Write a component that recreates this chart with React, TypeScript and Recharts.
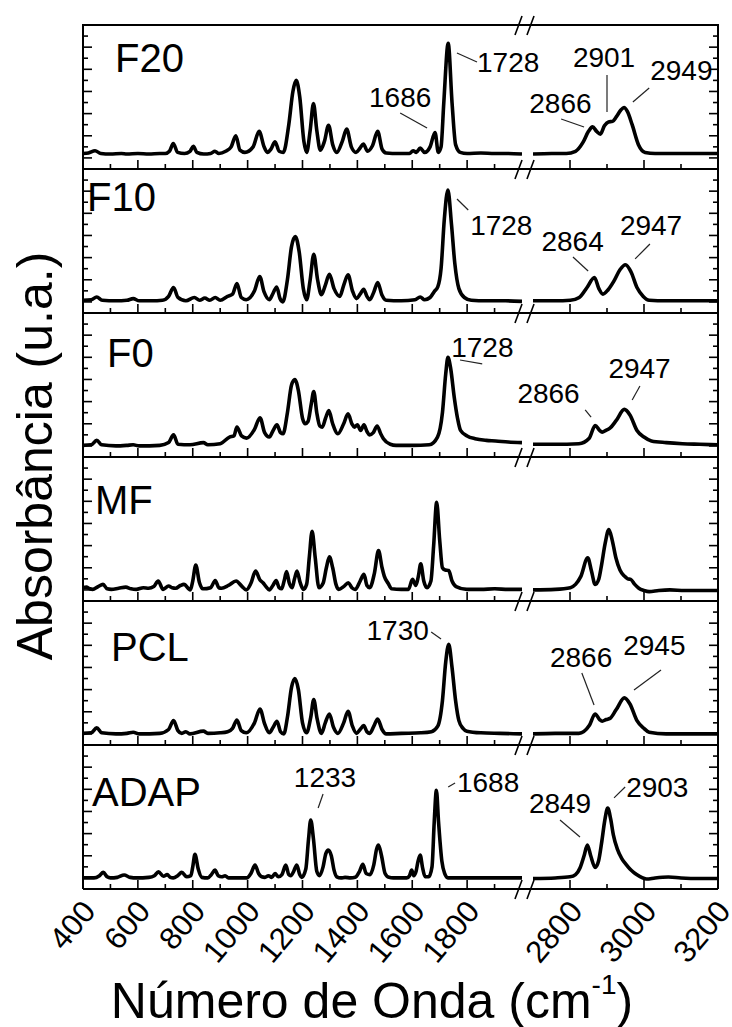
import React from "react";
import { LineChart, Line, XAxis, YAxis, ReferenceLine, ReferenceDot } from "recharts";

type Pt = [number, number];
type Note = { text: string; at: Pt; anchor: "start" | "middle" | "end"; line: [Pt, Pt] };

// absorbance, low-wavenumber segment (400-2000) and C-H segment (2700-3200)
const F20_LOW: Pt[] = [
  [400, 0.04], [420, 0.045], [444, 0.065], [465, 0.04], [500, 0.035], [540, 0.04], [560, 0.035], [600, 0.04],
  [640, 0.035], [680, 0.04], [700, 0.04], [715, 0.06], [729, 0.13], [745, 0.05], [770, 0.04], [790, 0.06],
  [802, 0.105], [815, 0.05], [840, 0.035], [865, 0.04], [881, 0.06], [895, 0.04], [920, 0.06], [940, 0.1],
  [957, 0.2], [972, 0.07], [990, 0.05], [1020, 0.1], [1042, 0.24], [1060, 0.1], [1072, 0.05], [1085, 0.08],
  [1100, 0.145], [1115, 0.06], [1130, 0.05], [1150, 0.3], [1165, 0.6], [1177, 0.7], [1190, 0.55], [1205, 0.15],
  [1215, 0.05], [1228, 0.25], [1240, 0.49], [1252, 0.25], [1265, 0.07], [1280, 0.15], [1295, 0.295], [1310, 0.12],
  [1325, 0.05], [1345, 0.15], [1361, 0.26], [1378, 0.1], [1395, 0.05], [1410, 0.09], [1422, 0.125], [1437, 0.06],
  [1455, 0.11], [1474, 0.24], [1490, 0.08], [1505, 0.045], [1550, 0.04], [1590, 0.04], [1603, 0.065], [1615, 0.05],
  [1629, 0.09], [1645, 0.05], [1665, 0.1], [1683, 0.23], [1695, 0.05], [1705, 0.1], [1715, 0.5], [1731, 1.035],
  [1745, 0.5], [1758, 0.12], [1775, 0.05], [1800, 0.04], [1850, 0.045], [1900, 0.04], [1950, 0.04], [2000, 0.035],
];
const F20_HIGH: Pt[] = [
  [2700, 0.035], [2750, 0.04], [2790, 0.04], [2815, 0.06], [2835, 0.14], [2850, 0.24], [2861, 0.28], [2872, 0.24],
  [2882, 0.215], [2893, 0.29], [2904, 0.325], [2915, 0.33], [2925, 0.37], [2937, 0.43], [2946, 0.455], [2955, 0.42],
  [2968, 0.3], [2985, 0.12], [3003, 0.05], [3030, 0.04], [3080, 0.04], [3130, 0.04], [3200, 0.04],
];

const F10_LOW: Pt[] = [
  [400, 0.015], [430, 0.02], [450, 0.045], [470, 0.015], [520, 0.01], [560, 0.015], [583, 0.03], [605, 0.01],
  [650, 0.01], [690, 0.015], [712, 0.05], [730, 0.13], [746, 0.04], [775, 0.01], [806, 0.04], [825, 0.015],
  [844, 0.035], [862, 0.015], [882, 0.04], [900, 0.015], [927, 0.05], [945, 0.07], [961, 0.165], [977, 0.04],
  [995, 0.02], [1025, 0.1], [1044, 0.23], [1060, 0.09], [1079, 0.02], [1093, 0.08], [1106, 0.135], [1118, 0.03],
  [1128, 0.0], [1145, 0.2], [1160, 0.5], [1174, 0.59], [1188, 0.45], [1203, 0.12], [1215, 0.02], [1228, 0.2],
  [1241, 0.43], [1255, 0.2], [1269, 0.065], [1283, 0.15], [1298, 0.25], [1315, 0.12], [1336, 0.05], [1350, 0.15],
  [1366, 0.245], [1382, 0.1], [1397, 0.03], [1410, 0.07], [1423, 0.115], [1435, 0.05], [1445, 0.02], [1460, 0.09],
  [1474, 0.175], [1490, 0.06], [1505, 0.015], [1560, 0.01], [1610, 0.02], [1629, 0.045], [1645, 0.02], [1665, 0.04],
  [1682, 0.1], [1693, 0.135], [1705, 0.3], [1717, 0.75], [1730, 1.01], [1743, 0.7], [1755, 0.35], [1770, 0.12],
  [1790, 0.04], [1815, 0.015], [1870, 0.01], [1940, 0.01], [2000, 0.005],
];
const F10_HIGH: Pt[] = [
  [2700, 0.01], [2760, 0.01], [2801, 0.015], [2825, 0.04], [2846, 0.13], [2866, 0.22], [2878, 0.12], [2889, 0.07],
  [2903, 0.11], [2919, 0.19], [2935, 0.29], [2950, 0.335], [2965, 0.27], [2981, 0.13], [2998, 0.05], [3014, 0.015],
  [3060, 0.01], [3120, 0.01], [3200, 0.01],
];

const F0_LOW: Pt[] = [
  [400, 0.005], [430, 0.01], [450, 0.05], [468, 0.01], [520, 0.0], [560, 0.005], [583, 0.01], [605, 0.0],
  [680, 0.005], [712, 0.03], [730, 0.1], [746, 0.015], [790, 0.01], [839, 0.03], [855, 0.01], [900, 0.02],
  [934, 0.08], [950, 0.09], [961, 0.17], [978, 0.09], [996, 0.07], [1025, 0.15], [1045, 0.255], [1062, 0.12],
  [1079, 0.08], [1093, 0.14], [1107, 0.19], [1120, 0.12], [1129, 0.11], [1145, 0.3], [1160, 0.55], [1172, 0.6],
  [1185, 0.5], [1200, 0.25], [1210, 0.2], [1220, 0.22], [1232, 0.38], [1241, 0.49], [1252, 0.3], [1263, 0.18],
  [1272, 0.17], [1284, 0.25], [1296, 0.32], [1310, 0.2], [1329, 0.11], [1350, 0.2], [1366, 0.29], [1380, 0.2],
  [1389, 0.17], [1400, 0.19], [1412, 0.14], [1424, 0.19], [1435, 0.13], [1444, 0.1], [1458, 0.12], [1472, 0.18],
  [1485, 0.11], [1495, 0.065], [1520, 0.015], [1541, 0.005], [1600, 0.005], [1662, 0.01], [1692, 0.08], [1710, 0.3],
  [1722, 0.65], [1730, 0.8], [1740, 0.7], [1753, 0.44], [1765, 0.25], [1776, 0.14], [1800, 0.09], [1829, 0.065],
  [1870, 0.05], [1904, 0.045], [1950, 0.035], [2000, 0.03],
];
const F0_HIGH: Pt[] = [
  [2700, 0.015], [2760, 0.015], [2824, 0.02], [2852, 0.07], [2868, 0.185], [2880, 0.14], [2887, 0.125], [2897, 0.14],
  [2908, 0.16], [2925, 0.23], [2947, 0.33], [2962, 0.28], [2981, 0.14], [3000, 0.08], [3020, 0.045], [3060, 0.03],
  [3104, 0.02], [3150, 0.015], [3200, 0.01],
];

const MF_LOW: Pt[] = [
  [400, 0.02], [412, 0.025], [425, 0.01], [435, 0.005], [455, 0.03], [473, 0.05], [488, 0.01], [503, 0.005],
  [530, 0.015], [556, 0.025], [575, 0.01], [594, 0.005], [620, 0.02], [639, 0.015], [658, 0.03], [674, 0.08],
  [692, 0.005], [712, 0.035], [725, 0.02], [738, 0.015], [755, 0.04], [768, 0.05], [791, 0.0], [800, 0.08],
  [811, 0.225], [824, 0.07], [837, 0.01], [865, 0.02], [882, 0.085], [895, 0.02], [905, 0.015], [930, 0.04],
  [958, 0.08], [980, 0.03], [995, 0.0], [1012, 0.06], [1029, 0.17], [1045, 0.09], [1056, 0.065], [1067, 0.03],
  [1079, 0.0], [1092, 0.04], [1104, 0.085], [1115, 0.02], [1124, 0.01], [1133, 0.08], [1142, 0.165], [1152, 0.06],
  [1162, 0.02], [1171, 0.1], [1180, 0.17], [1191, 0.07], [1203, 0.005], [1215, 0.05], [1225, 0.3], [1235, 0.53],
  [1246, 0.3], [1260, 0.02], [1275, 0.06], [1287, 0.2], [1298, 0.3], [1310, 0.2], [1322, 0.05], [1332, 0.005],
  [1350, 0.03], [1367, 0.065], [1380, 0.02], [1392, 0.005], [1410, 0.08], [1424, 0.14], [1435, 0.04], [1445, 0.02],
  [1462, 0.15], [1477, 0.355], [1490, 0.2], [1498, 0.125], [1512, 0.06], [1525, 0.01], [1560, 0.005], [1586, 0.005],
  [1601, 0.095], [1613, 0.04], [1622, 0.12], [1631, 0.235], [1642, 0.08], [1654, 0.02], [1668, 0.08], [1678, 0.4],
  [1689, 0.79], [1700, 0.45], [1710, 0.2], [1720, 0.18], [1733, 0.175], [1745, 0.08], [1760, 0.03], [1799, 0.005],
  [1850, 0.005], [1900, 0.01], [1950, 0.005], [2000, 0.005],
];
const MF_HIGH: Pt[] = [
  [2700, 0.0], [2760, 0.005], [2801, 0.02], [2815, 0.05], [2829, 0.12], [2848, 0.29], [2858, 0.17], [2868, 0.05],
  [2878, 0.1], [2885, 0.22], [2895, 0.42], [2905, 0.545], [2914, 0.45], [2924, 0.29], [2935, 0.18], [2947, 0.125],
  [2956, 0.1], [2964, 0.095], [2975, 0.05], [2986, 0.015], [3000, -0.005], [3014, -0.015], [3040, -0.005],
  [3070, 0.0], [3110, -0.005], [3150, -0.005], [3200, -0.005],
];

const PCL_LOW: Pt[] = [
  [400, 0.005], [430, 0.01], [450, 0.055], [468, 0.01], [520, 0.0], [560, 0.005], [583, 0.015], [605, 0.0],
  [680, 0.005], [712, 0.04], [730, 0.12], [746, 0.03], [760, 0.005], [775, 0.02], [790, 0.0], [839, 0.025],
  [855, 0.005], [900, 0.01], [927, 0.02], [945, 0.05], [961, 0.125], [977, 0.03], [995, 0.01], [1025, 0.1],
  [1045, 0.225], [1062, 0.09], [1079, 0.01], [1093, 0.06], [1107, 0.115], [1120, 0.02], [1132, 0.0], [1145, 0.15],
  [1160, 0.42], [1172, 0.5], [1185, 0.4], [1200, 0.1], [1215, 0.01], [1230, 0.15], [1241, 0.31], [1253, 0.14],
  [1269, 0.005], [1283, 0.1], [1298, 0.18], [1313, 0.06], [1329, 0.005], [1350, 0.1], [1366, 0.205], [1382, 0.07],
  [1397, 0.005], [1410, 0.04], [1423, 0.075], [1435, 0.02], [1445, 0.005], [1460, 0.07], [1474, 0.135], [1490, 0.04],
  [1505, 0.0], [1560, 0.005], [1631, 0.01], [1670, 0.02], [1693, 0.07], [1710, 0.3], [1722, 0.65], [1733, 0.81],
  [1745, 0.6], [1758, 0.3], [1770, 0.12], [1785, 0.05], [1799, 0.025], [1850, 0.01], [1920, 0.005], [2000, 0.0],
];
const PCL_HIGH: Pt[] = [
  [2700, 0.0], [2760, 0.005], [2824, 0.005], [2852, 0.075], [2868, 0.18], [2880, 0.13], [2887, 0.115], [2898, 0.13],
  [2908, 0.14], [2925, 0.22], [2947, 0.325], [2962, 0.27], [2981, 0.12], [3000, 0.05], [3014, 0.015], [3060, 0.0],
  [3120, 0.0], [3200, 0.0],
];

const ADAP_LOW: Pt[] = [
  [400, 0.0], [440, 0.0], [460, 0.02], [474, 0.05], [488, 0.01], [500, 0.0], [525, 0.005], [550, 0.026],
  [572, 0.005], [596, 0.0], [640, 0.005], [660, 0.02], [675, 0.056], [693, 0.015], [707, 0.03], [718, 0.005],
  [729, 0.0], [745, 0.02], [760, 0.05], [778, 0.01], [793, 0.02], [800, 0.1], [808, 0.213], [820, 0.08],
  [833, 0.005], [855, 0.0], [868, 0.03], [881, 0.07], [893, 0.02], [905, 0.01], [918, 0.02], [930, 0.0],
  [948, 0.0], [997, 0.0], [1012, 0.04], [1027, 0.117], [1040, 0.04], [1051, 0.01], [1063, 0.005], [1076, 0.02],
  [1088, 0.005], [1100, 0.04], [1112, 0.01], [1125, 0.03], [1139, 0.117], [1150, 0.03], [1157, 0.02], [1168, 0.06],
  [1179, 0.117], [1190, 0.03], [1197, 0.005], [1212, 0.08], [1222, 0.35], [1230, 0.523], [1240, 0.35], [1252, 0.06],
  [1262, 0.02], [1275, 0.1], [1285, 0.22], [1294, 0.252], [1305, 0.2], [1315, 0.07], [1325, 0.01], [1340, 0.0],
  [1355, 0.005], [1375, 0.0], [1392, 0.005], [1408, 0.06], [1420, 0.123], [1432, 0.04], [1446, 0.03], [1460, 0.12],
  [1470, 0.26], [1477, 0.297], [1488, 0.2], [1501, 0.04], [1515, 0.005], [1531, 0.0], [1580, 0.0], [1590, 0.02],
  [1598, 0.07], [1605, 0.02], [1614, 0.06], [1621, 0.15], [1629, 0.207], [1637, 0.1], [1647, 0.01], [1660, 0.01],
  [1672, 0.1], [1680, 0.5], [1688, 0.79], [1696, 0.5], [1708, 0.15], [1718, 0.04], [1730, 0.0], [1762, 0.0],
  [1800, 0.0], [1900, 0.0], [2000, 0.0],
];
const ADAP_HIGH: Pt[] = [
  [2700, -0.005], [2760, 0.0], [2800, 0.01], [2815, 0.03], [2827, 0.09], [2838, 0.2], [2847, 0.297], [2856, 0.2],
  [2868, 0.095], [2877, 0.15], [2886, 0.33], [2894, 0.52], [2902, 0.63], [2910, 0.53], [2917, 0.39], [2928, 0.26],
  [2940, 0.175], [2952, 0.12], [2962, 0.08], [2972, 0.05], [2980, 0.03], [3007, -0.01], [3030, 0.0], [3066, 0.008],
  [3100, 0.0], [3150, -0.005], [3200, -0.005],
];

// peak labels: text anchor point and leader line, in (wavenumber, absorbance)
const F20_NOTES: Note[] = [
  { text: "1686", at: [1556, 0.46], anchor: "middle", line: [[1556, 0.406], [1654, 0.27]] },
  { text: "1728", at: [1836, 0.776], anchor: "start", line: [[1763, 0.947], [1836, 0.866]] },
  { text: "2866", at: [2774, 0.406], anchor: "middle", line: [[2776, 0.351], [2838, 0.279]] },
  { text: "2901", at: [2892, 0.821], anchor: "middle", line: [[2900, 0.749], [2900, 0.415]] },
  { text: "2949", at: [3101, 0.703], anchor: "middle", line: [[3014, 0.631], [2970, 0.505]] },
];
const F10_NOTES: Note[] = [
  { text: "1728", at: [1811, 0.604], anchor: "start", line: [[1763, 0.929], [1804, 0.83]] },
  { text: "2864", at: [2807, 0.46], anchor: "middle", line: [[2808, 0.406], [2849, 0.279]] },
  { text: "2947", at: [3019, 0.604], anchor: "middle", line: [[3016, 0.523], [2976, 0.388]] },
];
const F0_NOTES: Note[] = [
  { text: "1728", at: [1742, 0.803], anchor: "start", line: [[1774, 0.776], [1855, 0.74]] },
  { text: "2866", at: [2742, 0.388], anchor: "middle", line: [[2841, 0.325], [2857, 0.261]] },
  { text: "2947", at: [2988, 0.613], anchor: "middle", line: [[2989, 0.541], [2968, 0.415]] },
];
const PCL_NOTES: Note[] = [
  { text: "1730", at: [1547, 0.848], anchor: "middle", line: [[1669, 0.92], [1705, 0.857]] },
  { text: "2866", at: [2830, 0.604], anchor: "middle", line: [[2832, 0.55], [2865, 0.261]] },
  { text: "2945", at: [3028, 0.713], anchor: "middle", line: [[3046, 0.577], [2973, 0.397]] },
];
const ADAP_NOTES: Note[] = [
  { text: "1233", at: [1282, 0.821], anchor: "middle", line: [[1275, 0.758], [1257, 0.631]] },
  { text: "1688", at: [1763, 0.776], anchor: "start", line: [[1756, 0.857], [1731, 0.821]] },
  { text: "2849", at: [2773, 0.586], anchor: "middle", line: [[2773, 0.523], [2827, 0.37]] },
  { text: "2903", at: [3036, 0.731], anchor: "middle", line: [[2949, 0.821], [2919, 0.722]] },
];

const LOW_MAJOR = [400, 600, 800, 1000, 1200, 1400, 1600, 1800];
const LOW_MINOR = [500, 700, 900, 1100, 1300, 1500, 1700, 1900];
const HIGH_MAJOR = [2800, 3000, 3200];
const HIGH_MINOR = [2900, 3100];
const Y_MAJOR = [0, 0.2, 0.4, 0.6, 0.8, 1.0];
const Y_MINOR = [0.1, 0.3, 0.5, 0.7, 0.9, 1.1];

const PANELS = [
  { name: "F20", low: F20_LOW, high: F20_HIGH, notes: F20_NOTES, lx: 115, ly: 72 },
  { name: "F10", low: F10_LOW, high: F10_HIGH, notes: F10_NOTES, lx: 87, ly: 211 },
  { name: "F0", low: F0_LOW, high: F0_HIGH, notes: F0_NOTES, lx: 107, ly: 367 },
  { name: "MF", low: MF_LOW, high: MF_HIGH, notes: [] as Note[], lx: 95, ly: 514 },
  { name: "PCL", low: PCL_LOW, high: PCL_HIGH, notes: PCL_NOTES, lx: 111, ly: 661 },
  { name: "ADAP", low: ADAP_LOW, high: ADAP_HIGH, notes: ADAP_NOTES, lx: 92, ly: 806 },
];

const FONT = "'Liberation Sans', Arial, sans-serif";
const LEFT = 83;
const BREAK_L = 522;
const BREAK_R = 533;
const RIGHT = 718;
const TOP = 25;
const PANEL_H = 144;
const Y_DOMAIN = [-0.1, 1.2];

function XTick(props: any) {
  const { x, y, payload, majors, bottom } = props;
  const major = majors.includes(payload.value);
  const tx = x + 14;
  const ty = y + 23;
  return (
    <g>
      <line x1={x} y1={y} x2={x} y2={y - (major ? 9 : 5)} stroke="#000" strokeWidth={1.6} />
      {bottom && major && (
        <text x={tx} y={ty} transform={`rotate(-50 ${tx} ${ty})`} textAnchor="end" fontSize={31} fontFamily={FONT} fill="#000">
          {payload.value}
        </text>
      )}
    </g>
  );
}

function YTick(props: any) {
  const { x, y, payload, dir } = props;
  const major = Y_MAJOR.includes(payload.value);
  return <line x1={x} y1={y} x2={x + dir * (major ? 9 : 5)} y2={y} stroke="#000" strokeWidth={1.6} />;
}

function NoteText({ cx, cy, text, anchor }: any) {
  return (
    <text x={cx} y={cy} textAnchor={anchor} fontSize={28} fontFamily={FONT} fill="#000">
      {text}
    </text>
  );
}

function Segment({ pts, notes, side, bottom }: { pts: Pt[]; notes: Note[]; side: "low" | "high"; bottom: boolean }) {
  const low = side === "low";
  const data = pts.map(([wn, a]) => ({ wn, a }));
  const domain = low ? [400, 2000] : [2700, 3200];
  const majors = low ? LOW_MAJOR : HIGH_MAJOR;
  const xticks = [...majors, ...(low ? LOW_MINOR : HIGH_MINOR)].sort((a, b) => a - b);
  const yticks = [...Y_MAJOR, ...Y_MINOR].sort((a, b) => a - b);
  const width = (low ? BREAK_L - LEFT : RIGHT - BREAK_R) + 1;
  const mine = notes.filter((n) => (n.at[0] < 2300) === low);
  return (
    <LineChart width={width} height={PANEL_H + 1} data={data} margin={{ top: 0, right: 0, bottom: 0, left: 0 }}>
      <XAxis
        dataKey="wn"
        type="number"
        domain={domain}
        allowDataOverflow
        ticks={xticks}
        interval={0}
        height={1}
        tickSize={0}
        tickMargin={0}
        tickLine={false}
        tick={<XTick majors={majors} bottom={bottom} />}
        axisLine={{ stroke: "#000", strokeWidth: 2 }}
      />
      <YAxis
        type="number"
        domain={Y_DOMAIN}
        allowDataOverflow
        orientation={low ? "left" : "right"}
        ticks={yticks}
        interval={0}
        width={1}
        tickSize={0}
        tickMargin={0}
        tickLine={false}
        tick={<YTick dir={low ? 1 : -1} />}
        axisLine={{ stroke: "#000", strokeWidth: 2 }}
      />
      <Line type="monotone" dataKey="a" stroke="#000" strokeWidth={3.6} dot={false} isAnimationActive={false} />
      {mine.map((n) => (
        <ReferenceLine
          key={n.text + "l"}
          segment={[{ x: n.line[0][0], y: n.line[0][1] }, { x: n.line[1][0], y: n.line[1][1] }]}
          stroke="#222"
          strokeWidth={1.2}
          ifOverflow="visible"
        />
      ))}
      {mine.map((n) => (
        <ReferenceDot
          key={n.text + "t"}
          x={n.at[0]}
          y={n.at[1]}
          r={0}
          ifOverflow="visible"
          shape={(p: any) => <NoteText cx={p.cx} cy={p.cy} text={n.text} anchor={n.anchor} />}
        />
      ))}
    </LineChart>
  );
}

export default function App() {
  const borders = PANELS.map((_, i) => TOP + i * PANEL_H).concat([TOP + PANELS.length * PANEL_H]);
  return (
    <div style={{ position: "relative", width: 732, height: 1027, background: "#fff", fontFamily: FONT }}>
      <style>{`body{margin:0} .recharts-surface{overflow:visible}`}</style>
      {PANELS.map((p, i) => (
        <React.Fragment key={p.name}>
          <div style={{ position: "absolute", left: LEFT - 1, top: TOP + i * PANEL_H }}>
            <Segment pts={p.low} notes={p.notes} side="low" bottom={i === PANELS.length - 1} />
          </div>
          <div style={{ position: "absolute", left: BREAK_R, top: TOP + i * PANEL_H }}>
            <Segment pts={p.high} notes={p.notes} side="high" bottom={i === PANELS.length - 1} />
          </div>
        </React.Fragment>
      ))}
      <svg width={732} height={1027} style={{ position: "absolute", left: 0, top: 0, pointerEvents: "none", overflow: "visible" }}>
        <line x1={LEFT - 1} y1={TOP} x2={RIGHT + 1} y2={TOP} stroke="#000" strokeWidth={2} />
        {borders.map((y) => (
          <g key={y}>
            <line x1={BREAK_L - 1} y1={y} x2={BREAK_R + 1} y2={y} stroke="#000" strokeWidth={2} />
            <line x1={515} y1={y + 10} x2={522} y2={y - 9} stroke="#000" strokeWidth={1.6} />
            <line x1={527} y1={y + 10} x2={534} y2={y - 9} stroke="#000" strokeWidth={1.6} />
          </g>
        ))}
        {PANELS.map((p) => (
          <text key={p.name} x={p.lx} y={p.ly} fontSize={40} fontFamily={FONT} fill="#000">
            {p.name}
          </text>
        ))}
        <text x={52} y={456} transform="rotate(-90 52 456)" textAnchor="middle" fontSize={50} fontFamily={FONT} fill="#000">
          Absorbância (u.a.)
        </text>
        <text x={372} y={1018} textAnchor="middle" fontSize={50} fontFamily={FONT} fill="#000">
          Número de Onda (cm
          <tspan fontSize={28} dy={-24}>-1</tspan>
          <tspan dy={24}>)</tspan>
        </text>
      </svg>
    </div>
  );
}
